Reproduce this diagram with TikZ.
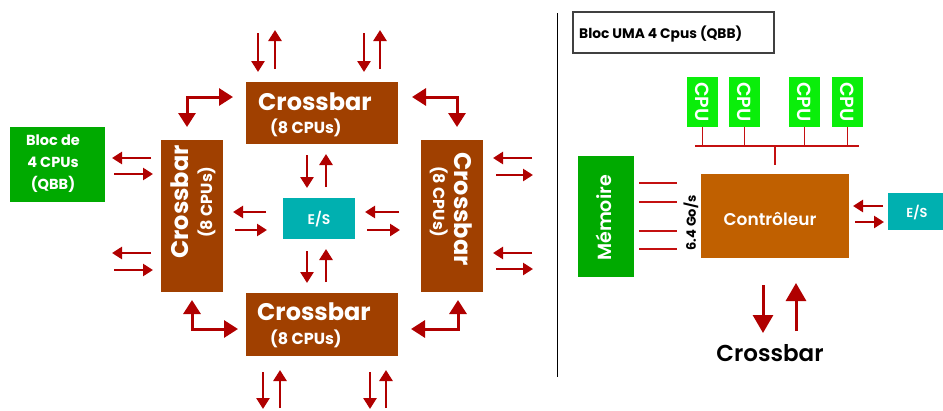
\documentclass[tikz,border=0pt]{standalone}
\usepackage{fontspec}
\setmainfont{Poppins}
\IfFontExistsTF{Poppins SemiBold}{\newfontfamily\pmed{Poppins SemiBold}}{\newfontfamily\pmed{Poppins}[FakeBold=1.5]}
\usetikzlibrary{arrows.meta}
\definecolor{xbar}{RGB}{160,64,0}
\definecolor{ctrl}{RGB}{192,96,0}
\definecolor{dgreen}{RGB}{0,170,0}
\definecolor{cpugreen}{RGB}{10,238,10}
\definecolor{esteal}{RGB}{0,176,176}
\definecolor{arred}{RGB}{176,0,0}
\definecolor{busred}{RGB}{196,16,16}
\newcommand\arw[4]{\coordinate (#1s) at (#2); \coordinate (#1e) at (#3); \draw[#4] (#1s) -- (#1e);}
\begin{document}
\begin{tikzpicture}[x=1pt,y=-1pt,
  box/.style={inner sep=0pt, outer sep=0pt, draw=none},
  wtxt/.style={text=white, font=\bfseries, inner sep=0pt},
  sa/.style={draw=arred, line width=2.7pt, -{Triangle[length=11pt,width=13pt]}},
  ha/.style={draw=arred, line width=2.7pt, -{Triangle[length=10pt,width=12pt]}},
  el/.style={draw=arred, line width=3pt, {Triangle[length=14pt,width=17pt]}-{Triangle[length=14pt,width=17pt]}},
  ba/.style={draw=arred, line width=3pt, -{Triangle[length=18pt,width=20pt]}},
  busl/.style={draw=busred, line width=1.6pt},
]
\useasboundingbox (0,0) rectangle (943,410);

% ---------- left part ----------
\node[box, fill=dgreen, minimum width=95pt, minimum height=75pt, anchor=north west] (qbb) at (10,127) {};
\node[wtxt, align=center, font=\bfseries\fontsize{14.5}{22}\selectfont] (qbbt) at (53,164) {Bloc de\\4 CPUs\\(QBB)};

\node[box, fill=xbar, minimum width=152pt, minimum height=62pt, anchor=north west] (xtop) at (246,82) {};
\node[box, fill=xbar, minimum width=152pt, minimum height=63pt, anchor=north west] (xbot) at (246,293) {};
\node[box, fill=xbar, minimum width=62pt, minimum height=152pt, anchor=north west] (xleft) at (161,140) {};
\node[box, fill=xbar, minimum width=62pt, minimum height=152pt, anchor=north west] (xright) at (421,140) {};

\tikzset{bigt/.style={wtxt, font=\bfseries\fontsize{24}{24}\selectfont},
         smallt/.style={wtxt, font=\bfseries\fontsize{16}{16}\selectfont}}
\node[bigt, anchor=base west] (xtopa) at (258,110) {Crossbar};
\node[smallt, anchor=base west] (xtopb) at (270,133) {(8 CPUs)};
\node[bigt, anchor=base west] (xbota) at (257,320) {Crossbar};
\node[smallt, anchor=base west] (xbotb) at (270,344) {(8 CPUs)};
\node[bigt, anchor=base west, rotate=90] (xlefta) at (188,259) {Crossbar};
\node[smallt, anchor=base west, rotate=90] (xleftb) at (212,238) {(8 CPUs)};
\node[bigt, anchor=base west, rotate=-90] (xrighta) at (454,152) {Crossbar};
\node[smallt, anchor=base west, rotate=-90] (xrightb) at (433,166) {(8 CPUs)};

\node[box, fill=esteal, minimum width=72pt, minimum height=41pt, anchor=north west] (es) at (283,198) {};
\node[wtxt, font=\pmed\fontsize{14}{14}\selectfont] (est) at (319,219) {E/S};

% vertical pairs top
\arw{t1}{258,33}{258,72}{sa}
\arw{t2}{275,69}{275,30}{sa}
\arw{t3}{364,33}{364,72}{sa}
\arw{t4}{380,69}{380,30}{sa}
% vertical pairs bottom
\arw{b1}{263,372}{263,409}{sa}
\arw{b2}{280,408}{280,370}{sa}
\arw{b3}{370,372}{370,409}{sa}
\arw{b4}{386,408}{386,370}{sa}
% around E/S
\arw{e1}{307,155}{307,188}{sa}
\arw{e2}{326,187}{326,154}{sa}
\arw{e3}{307,251}{307,283}{sa}
\arw{e4}{326,282}{326,249}{sa}
\arw{e5}{266,212}{233,212}{ha}
\arw{e6}{235,230}{267,230}{ha}
\arw{e7}{399,212}{365,212}{ha}
\arw{e8}{367,230}{400,230}{ha}
% left crossbar outer
\arw{l1}{151,158}{112,158}{ha}
\arw{l2}{114,174}{153,174}{ha}
\arw{l3}{151,253}{112,253}{ha}
\arw{l4}{114,270}{153,270}{ha}
% right crossbar outer
\arw{r1}{532,158}{493,158}{ha}
\arw{r2}{496,175}{533,175}{ha}
\arw{r3}{532,253}{493,253}{ha}
\arw{r4}{496,269}{533,269}{ha}
% elbows
\coordinate (tl1) at (187,127); \coordinate (tl2) at (233,97);
\draw[el] (tl1) |- (tl2);
\coordinate (tr1) at (412,97); \coordinate (tr2) at (457,127);
\draw[el] (tr1) -| (tr2);
\coordinate (bl1) at (192,300); \coordinate (bl2) at (238,329);
\draw[el] (bl1) |- (bl2);
\coordinate (br1) at (411,329); \coordinate (br2) at (458,300);
\draw[el] (br1) -| (br2);

% divider
\coordinate (d1) at (557,13); \coordinate (d2) at (557,377);
\draw[black, line width=1pt] (d1) -- (d2);

% ---------- right part ----------
\node[box, draw=black!75, line width=1.2pt, minimum width=201pt, minimum height=41pt, anchor=north west] (title) at (573,12) {};
\node[inner sep=0pt, anchor=base west, font=\bfseries\fontsize{13.8}{14}\selectfont] (titlet) at (579,38) {Bloc UMA 4 Cpus (QBB)};

\foreach \n/\x in {1/687,2/729,3/789,4/832}{
  \node[box, fill=cpugreen, minimum width=31pt, minimum height=50pt, anchor=north west] (cpu\n) at (\x,77) {};
  \node[wtxt, font=\pmed\fontsize{19}{19}\selectfont, rotate=-90] (cpu\n t) at (cpu\n.center) {CPU};
}
\coordinate (busL) at (695,146); \coordinate (busR) at (859,146);
\coordinate (busM) at (775,146); \coordinate (busD) at (775,165);
\foreach \n in {1,2,3,4}{ \draw[busl] (cpu\n.south) -- (cpu\n.south |- busL); }
\draw[busl] (busL) -- (busR);
\draw[busl] (busM) -- (busD);

\node[box, fill=dgreen, minimum width=56pt, minimum height=121pt, anchor=north west] (mem) at (578,156) {};
\node[wtxt, font=\pmed\fontsize{19}{20}\selectfont, rotate=90] (memt) at (604,218) {Mémoire};
\foreach \y in {183,202,231,249}{
  \coordinate (ml\y) at (639,\y); \coordinate (mr\y) at (677,\y);
  \draw[busl] (ml\y) -- (mr\y);
}
\node[inner sep=0pt, rotate=90, font=\bfseries\fontsize{13}{13}\selectfont] (rate) at (691,223) {6.4 Go/s};

\node[box, fill=ctrl, minimum width=148pt, minimum height=84pt, anchor=north west] (ctl) at (701,174) {};
\node[wtxt, font=\pmed\fontsize{17}{18}\selectfont] (ctlt) at (770,219) {Contrôleur};

\node[box, fill=esteal, minimum width=55pt, minimum height=37pt, anchor=north west] (es2) at (888,193) {};
\node[wtxt, font=\pmed\fontsize{13}{13}\selectfont] (es2t) at (917,213) {E/S};
\arw{c1}{883,206}{853,206}{ha}
\arw{c2}{855,222}{884,222}{ha}

\arw{x1}{763,285}{763,333}{ba}
\arw{x2}{796,331}{796,283}{ba}
\node[inner sep=0pt, font=\pmed\fontsize{23}{23}\selectfont] (xlab) at (770,353) {Crossbar};
\end{tikzpicture}
\end{document}
